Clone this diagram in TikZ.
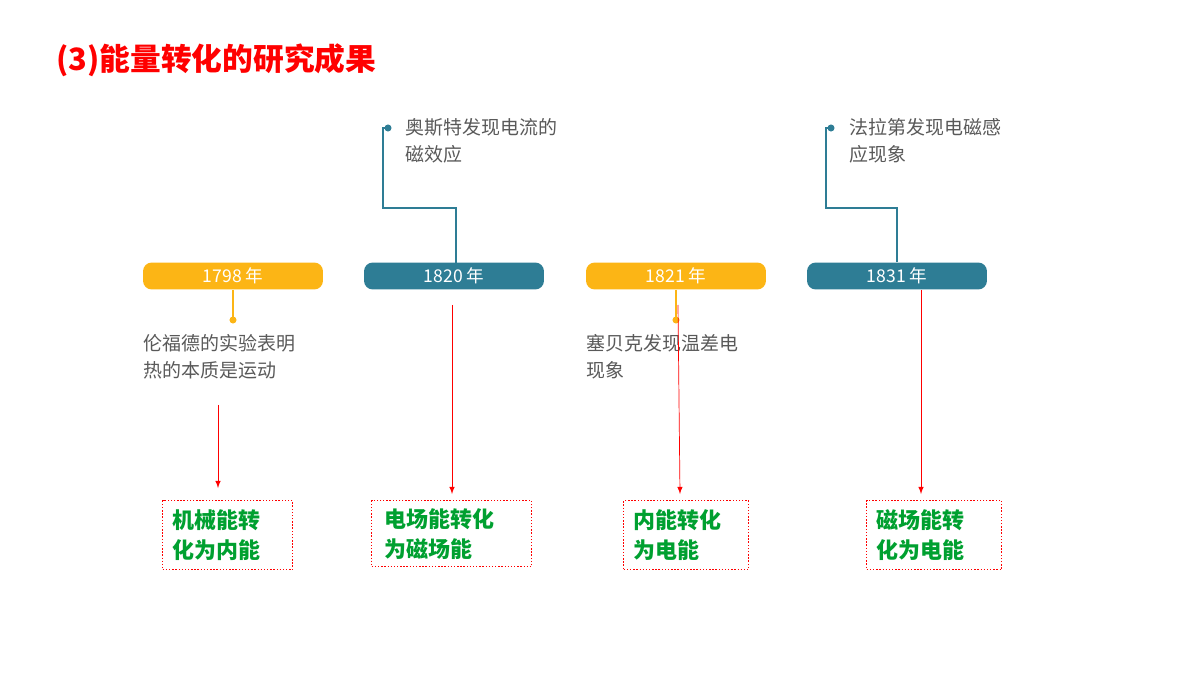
\documentclass[tikz,border=0pt]{standalone}
\usepackage{fontspec}
\setmainfont{Liberation Serif}
\newfontfamily\cjk{Noto Sans CJK SC}
\definecolor{pillorange}{HTML}{FCB515}
\definecolor{pillteal}{HTML}{2E7D95}
\definecolor{textgray}{HTML}{595959}
\definecolor{boxgreen}{HTML}{00A030}
\tikzset{
  pill/.style={rounded corners=5pt, minimum width=3.6cm, minimum height=0.54cm, text=white, font=\fontsize{10}{12}\selectfont\cjk, inner sep=0pt},
  note/.style={anchor=north west, align=left, text=textgray, font=\fontsize{10.8}{15.5}\selectfont\cjk, inner sep=0pt},
  result/.style={draw=red, densely dotted, thick, align=left, text=boxgreen, font=\fontsize{12.5}{17}\selectfont\bfseries\cjk, anchor=north west, inner sep=0pt},
  redarrow/.style={red, -latex},
}
\begin{document}
\begin{tikzpicture}[x=0.02cm, y=-0.02cm]
    \useasboundingbox (0,0) rectangle (1200,675);

    % title
    \node[anchor=west, text=red, font=\fontsize{17.5}{20}\selectfont\bfseries\cjk] (title) at (50,60) {(3)能量转化的研究成果};

    % years
    \node[pill, fill=pillorange] (y1798) at (233,276) {1798 年};
    \node[pill, fill=pillteal] (y1820) at (454,276) {1820 年};
    \node[pill, fill=pillorange] (y1821) at (676,276) {1821 年};
    \node[pill, fill=pillteal] (y1831) at (897,276) {1831 年};

    % notes above
    \node[note] (oersted) at (405,118) {奥斯特发现电流的\\磁效应};
    \node[note] (faraday) at (849,118) {法拉第发现电磁感\\应现象};
    \coordinate (d1820) at (388,128);
    \coordinate (d1831) at (831,128);
    \coordinate (t1820) at (456,263);
    \draw[pillteal, thick] (t1820) |- (383,208) |- (d1820);
    \draw[pillteal, thick] (y1831.north) |- (826,208) |- (d1831);
    \fill[pillteal] (d1820) circle (2pt);
    \fill[pillteal] (d1831) circle (2pt);

    % notes below
    \node[note] (rumford) at (143,334) {伦福德的实验表明\\热的本质是运动};
    \node[note] (seebeck) at (586,334) {塞贝克发现温差电\\现象};
    \coordinate (d1798) at (233,320);
    \coordinate (d1821) at (676,320);
    \draw[pillorange, thick] (y1798.south) -- (d1798);
    \draw[pillorange, thick] (y1821.south) -- (d1821);
    \fill[pillorange] (d1798) circle (2pt);
    \fill[pillorange] (d1821) circle (2pt);

    % results
    \node[result, minimum width=2.5cm, minimum height=1.38cm, text width=2.2cm, inner xsep=0.2cm] (r1) at (162,500) {机械能转\\化为内能};
    \node[result, minimum width=3.06cm, minimum height=1.32cm, text width=2.7cm, inner xsep=0.25cm] (r2) at (371,500) {电场能转化\\为磁场能};
    \node[result, minimum width=2.4cm, minimum height=1.38cm, text width=2.1cm, inner xsep=0.2cm] (r3) at (623,500) {内能转化\\为电能};
    \node[result, minimum width=2.6cm, minimum height=1.38cm, text width=2.3cm, inner xsep=0.2cm] (r4) at (866,500) {磁场能转\\化为电能};

    \coordinate (s1) at (218,405);
    \coordinate (e1) at (218,488);
    \coordinate (s2) at (452,305);
    \coordinate (e2) at (452,494);
    \coordinate (s3) at (678,305);
    \coordinate (e3) at (680,494);
    \coordinate (s4) at (921,290);
    \coordinate (e4) at (921,494);
    \draw[redarrow] (s1) -- (e1);
    \draw[redarrow] (s2) -- (e2);
    \draw[redarrow] (s3) -- (e3);
    \draw[redarrow] (s4) -- (e4);

\end{tikzpicture}
\end{document}
